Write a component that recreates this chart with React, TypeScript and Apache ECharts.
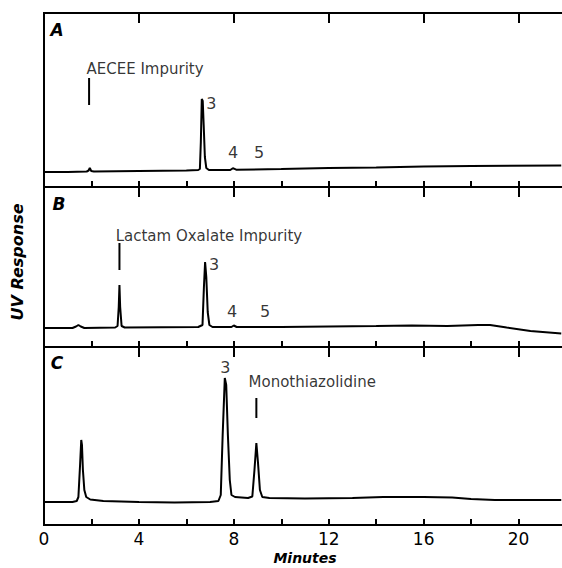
import React, { useEffect, useRef } from "react";
import * as echarts from "echarts";

// ---- data (time in minutes, response in arbitrary units per panel) ----
const X_MIN = 0;
const X_MAX = 22;
const MINOR_STEP = 2;
const MAJOR_STEP = 4;

const panelNames = ["A", "B", "C"];
const panelMax = [174, 160, 178];

const traceA: [number, number][] = [
  [0, 15], [1.0, 15], [1.8, 15.5], [1.88, 16.5], [1.93, 19], [1.99, 16], [2.1, 15.5],
  [4, 16], [6.0, 16.5], [6.5, 17], [6.57, 18], [6.61, 45], [6.65, 88], [6.69, 86],
  [6.73, 62], [6.78, 30], [6.84, 19], [6.95, 17], [7.85, 17], [7.96, 18.8], [8.1, 17.3],
  [10, 18], [12, 19], [14, 19.5], [16, 20.5], [18, 21], [21.8, 21.5],
];
const traceB: [number, number][] = [
  [0, 19], [1.2, 19], [1.35, 20.5], [1.45, 22], [1.55, 20.5], [1.7, 19], [3.0, 19.5],
  [3.1, 21], [3.15, 40], [3.18, 62], [3.21, 40], [3.27, 21], [3.4, 19.5], [6.5, 20],
  [6.68, 22], [6.74, 60], [6.79, 85], [6.84, 70], [6.9, 35], [6.97, 22], [7.1, 20],
  [7.9, 20], [8.0, 21.5], [8.12, 20], [10, 20], [12, 20.5], [14, 21], [15.5, 21.5],
  [17, 21], [18.3, 22], [18.8, 22], [19.5, 19.5], [20.5, 16], [21.8, 13.5],
];
const traceC: [number, number][] = [
  [0, 23], [1.2, 23], [1.38, 24], [1.45, 28], [1.52, 60], [1.57, 85], [1.6, 80],
  [1.64, 55], [1.7, 35], [1.78, 28], [1.95, 25.5], [2.5, 24], [4, 23], [5.5, 22.5],
  [7.0, 23], [7.35, 24], [7.45, 30], [7.53, 90], [7.62, 147], [7.68, 140], [7.75, 90],
  [7.83, 45], [7.9, 30], [8.05, 28], [8.6, 27], [8.78, 28.5], [8.87, 55], [8.95, 82],
  [9.02, 62], [9.1, 35], [9.2, 28], [9.5, 27], [11, 26.5], [13, 27], [14.3, 28],
  [16, 28], [17.2, 27.5], [18, 26], [19, 25], [21.8, 25],
];

const markerA: [number, number][] = [[1.9, 82], [1.9, 109]];
const markerB: [number, number][] = [[3.18, 77], [3.18, 104]];
const markerC: [number, number][] = [[8.95, 107], [8.95, 127]];

const peakNumbersA: [number, number, string][] = [[7.05, 84, "3"], [7.97, 35, "4"], [9.07, 35, "5"]];
const peakNumbersB: [number, number, string][] = [[7.17, 83, "3"], [7.93, 36, "4"], [9.32, 36, "5"]];
const peakNumbersC: [number, number, string][] = [[7.64, 158, "3"]];

const impurityLabelsA: [number, number, string][] = [[1.77, 118, "AECEE Impurity"]];
const impurityLabelsB: [number, number, string][] = [[3.0, 111, "Lactam Oxalate Impurity"]];
const impurityLabelsC: [number, number, string][] = [[8.6, 143, "Monothiazolidine"]];

const traces = [traceA, traceB, traceC];
const markers = [markerA, markerB, markerC];
const peakNumbers = [peakNumbersA, peakNumbersB, peakNumbersC];
const impurityLabels = [impurityLabelsA, impurityLabelsB, impurityLabelsC];

// ---- layout ----
const W = 562;
const H = 568;
const gridTops = [13, 187, 347];
const gridHeights = [174, 160, 178];
const FONT = "DejaVu Sans";
const INK = "#000";

export default function App() {
  const ref = useRef<HTMLDivElement>(null);

  useEffect(() => {
    document.body.style.margin = "0";
    if (!ref.current) return;
    const chart = echarts.init(ref.current, undefined, { renderer: "svg" });

    const grid = gridTops.map((top, i) => ({
      left: 44,
      width: 522,
      top,
      height: gridHeights[i],
      show: true,
      borderColor: INK,
      borderWidth: 2,
      backgroundColor: "transparent",
      containLabel: false,
      outerBoundsMode: "none",
    }));

    const xAxis: any[] = [];
    const yAxis: any[] = [];
    const series: any[] = [];

    for (let i = 0; i < 3; i++) {
      const isLast = i === 2;
      xAxis.push({
        gridIndex: i,
        type: "value",
        min: X_MIN,
        max: X_MAX,
        interval: MINOR_STEP,
        axisLine: { show: true, onZero: false, lineStyle: { color: INK, width: 2 } },
        axisTick: { show: true, inside: true, length: 6, lineStyle: { color: INK, width: 2 } },
        axisLabel: isLast
          ? {
              show: true,
              formatter: (v: number) => (v % MAJOR_STEP === 0 ? String(v) : ""),
              fontSize: 17,
              color: INK,
              margin: 5,
              fontFamily: FONT,
            }
          : { show: false },
        splitLine: { show: false },
        name: isLast ? "Minutes" : "",
        nameLocation: "middle",
        nameGap: 26,
        nameTextStyle: {
          fontStyle: "italic",
          fontWeight: "bold",
          fontSize: 14,
          color: INK,
          fontFamily: FONT,
        },
      });
      xAxis.push({
        gridIndex: i,
        type: "value",
        min: X_MIN,
        max: X_MAX,
        interval: MAJOR_STEP,
        axisLine: { show: false, onZero: false },
        axisTick: { show: true, inside: true, length: 10, lineStyle: { color: INK, width: 2 } },
        axisLabel: { show: false },
        splitLine: { show: false },
      });
      yAxis.push({
        gridIndex: i,
        type: "value",
        min: 0,
        max: panelMax[i],
        show: false,
        splitLine: { show: false },
      });

      series.push({
        type: "line",
        xAxisIndex: 2 * i,
        yAxisIndex: i,
        data: traces[i],
        showSymbol: false,
        symbol: "none",
        lineStyle: { color: INK, width: 2 },
        silent: true,
      });
      series.push({
        type: "line",
        xAxisIndex: 2 * i,
        yAxisIndex: i,
        data: markers[i],
        showSymbol: false,
        symbol: "none",
        lineStyle: { color: INK, width: 2 },
        silent: true,
      });
      series.push({
        type: "scatter",
        xAxisIndex: 2 * i,
        yAxisIndex: i,
        data: peakNumbers[i].map((p) => ({ value: [p[0], p[1]], name: p[2] })),
        symbolSize: 1,
        itemStyle: { color: "transparent" },
        label: {
          show: true,
          position: "inside",
          formatter: "{b}",
          color: INK,
          fontSize: 16,
          fontFamily: FONT,
        },
        silent: true,
      });
      series.push({
        type: "scatter",
        xAxisIndex: 2 * i,
        yAxisIndex: i,
        data: impurityLabels[i].map((p) => ({ value: [p[0], p[1]], name: p[2] })),
        symbolSize: 1,
        itemStyle: { color: "transparent" },
        label: {
          show: true,
          position: "right",
          distance: 0,
          formatter: "{b}",
          color: INK,
          fontSize: 15,
          fontFamily: FONT,
        },
        silent: true,
      });
    }

    const letterPos = [
      [57, 30],
      [59, 204],
      [57, 363],
    ];

    const graphic: any[] = panelNames.map((n, i) => ({
      type: "text",
      x: letterPos[i][0],
      y: letterPos[i][1],
      style: {
        text: n,
        fill: INK,
        fontSize: 17,
        fontWeight: "bold",
        fontStyle: "italic",
        fontFamily: FONT,
        align: "center",
        verticalAlign: "middle",
      },
    }));
    graphic.push({
      type: "text",
      x: 17,
      y: 262,
      rotation: Math.PI / 2,
      style: {
        text: "UV Response",
        fill: INK,
        fontSize: 16,
        fontWeight: "bold",
        fontStyle: "italic",
        fontFamily: FONT,
        align: "center",
        verticalAlign: "middle",
      },
    });

    chart.setOption({
      animation: false,
      backgroundColor: "#fff",
      grid,
      xAxis,
      yAxis,
      series,
      graphic,
    });

    return () => chart.dispose();
  }, []);

  return (
    <div
      ref={ref}
      style={{ position: "absolute", left: 0, top: 0, width: W, height: H }}
    />
  );
}
